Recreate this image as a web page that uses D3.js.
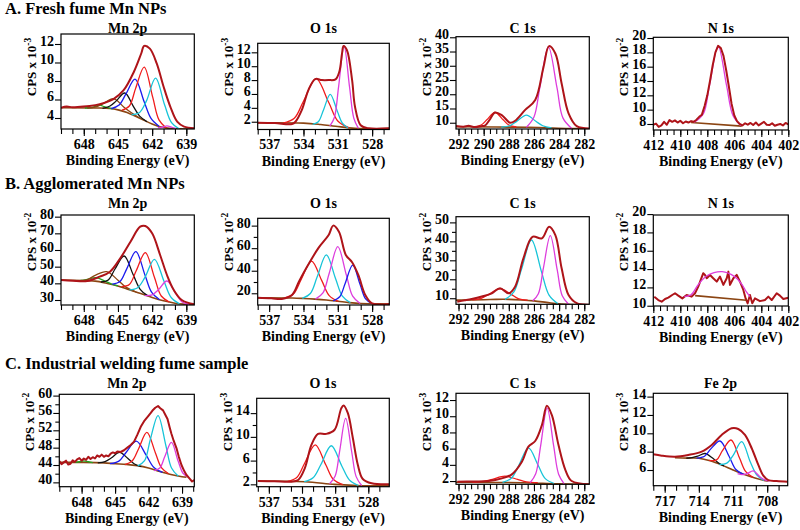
<!DOCTYPE html>
<html>
<head>
<meta charset="utf-8">
<script src="https://cdn.jsdelivr.net/npm/d3@7"></script>
<style>
  body { margin: 0; background: #fff; }
  svg text { font-family: "Liberation Serif", "Times New Roman", serif; font-weight: bold; fill: #000; }
</style>
</head>
<body>
<svg id="fig" width="800" height="530"></svg>
<script>
// ---- Text ----
const rowTitles = ["A. Fresh fume Mn NPs", "B. Agglomerated Mn NPs", "C. Industrial welding fume sample"];
const panelNames = [["Mn 2p", "O 1s", "C 1s", "N 1s"], ["Mn 2p", "O 1s", "C 1s", "N 1s"], ["Mn 2p", "O 1s", "C 1s", "Fe 2p"]];
const panelExponents = [["-3", "-3", "-2", "-2"], ["-2", "-2", "-2", "-2"], ["-2", "-3", "-3", "-3"]];
const xAxisTitle = "Binding Energy (eV)";

// ---- Tick labels ----
const mnXTicks = [648, 645, 642, 639];
const oXTicks = [537, 534, 531, 528];
const cXTicks = [292, 290, 288, 286, 284, 282];
const nXTicks = [412, 410, 408, 406, 404, 402];
const feXTicks = [717, 714, 711, 708];
const a1YTicks = [4, 6, 8, 10, 12];
const a2YTicks = [2, 4, 6, 8, 10, 12];
const a3YTicks = [10, 15, 20, 25, 30, 35, 40];
const a4YTicks = [8, 10, 12, 14, 16, 18, 20];
const b1YTicks = [30, 40, 50, 60, 70, 80];
const b2YTicks = [20, 40, 60, 80];
const b3YTicks = [10, 20, 30, 40, 50];
const b4YTicks = [10, 12, 14, 16, 18, 20];
const c1YTicks = [40, 44, 48, 52, 56, 60];
const c2YTicks = [2, 6, 10, 14];
const c3YTicks = [2, 4, 6, 8, 10, 12];
const c4YTicks = [6, 8, 10, 12, 14];

// ---- A. Fresh fume: [binding energy, CPS] ----
const a1Envelope = [[650,5.1],[649.5,5.25],[649,5.15],[648.3,5.22],[647.5,5.3],[646.6,5.5],[645.4,6.05],[644.5,7.0],[643.6,9.0],[642.95,11.0],[642.7,11.8],[642.2,11.5],[641.6,9.9],[641.0,7.4],[640.4,5.2],[639.8,3.6],[639.2,3.06],[638.3,2.9]];
const a1Background = [[650,5.1],[647,5.08],[645.7,5.03],[644.9,4.85],[644.2,4.6],[643.5,4.2],[642.8,3.8],[642,3.35],[641.3,3.05],[640.5,2.88],[639.8,2.82],[638.3,2.8]];
const a1Green = [[647.9,5.08],[647.4,5.12],[647.0,5.25],[646.6,5.4],[646.2,5.22],[645.8,5.1],[645.4,5.0]];
const a1Brown = [[647.7,5.08],[646.95,5.2],[646.3,5.55],[645.4,6.1],[644.5,5.2],[643.85,4.6],[643.1,4.0]];
const a1Black = [[646.35,5.05],[645.7,5.3],[645.15,5.85],[644.4,6.7],[643.65,5.25],[643.1,4.2],[642.45,3.6]];
const a1Blue = [[645.6,5.0],[644.9,5.4],[644.3,6.6],[643.5,8.2],[642.7,5.75],[642.1,3.95],[641.4,3.1]];
const a1Red = [[644.65,4.85],[644.0,5.3],[643.45,7.2],[642.7,9.5],[641.95,6.25],[641.4,3.8],[640.75,2.9]];
const a1Cyan = [[643.8,4.35],[643.1,4.6],[642.5,5.85],[641.7,8.3],[640.9,5.4],[640.3,3.5],[639.6,2.8]];
const a1Magenta = [[641.5,2.95],[641.1,3.0],[640.7,3.15],[640.3,3.0],[639.9,2.85]];

const a2Envelope = [[538,1.86],[536.5,1.8],[535.0,1.67],[534.7,2.0],[534.14,3.7],[533.56,6.6],[532.97,8.15],[532.4,8.0],[531.8,8.0],[531.2,8.1],[530.87,9.2],[530.63,11.85],[530.5,12.9],[530.2,12.3],[529.75,8.0],[529.5,4.2],[529.0,1.5],[528.3,1.05],[526.5,1.05]];
const a2Background = [[538,1.85],[534,1.8],[532.5,1.6],[531.2,1.35],[529.5,1.05],[526.5,1.0]];
const a2Red = [[535.8,1.8],[534.8,2.5],[534.0,4.95],[532.9,8.2],[531.8,4.8],[531.0,2.1],[530.0,1.1]];
const a2Cyan = [[533.2,1.62],[532.7,2.0],[532.25,3.7],[531.66,5.95],[531.05,3.55],[530.6,1.8],[530.1,1.1]];
const a2Magenta = [[531.7,1.35],[531.3,2.6],[530.93,7.05],[530.45,12.9],[529.97,6.95],[529.6,2.5],[529.2,1.05]];

const a3Envelope = [[292.2,8.84],[291.6,8.6],[291.2,8.9],[290.7,8.5],[290.2,8.8],[289.9,9.0],[289.5,11.2],[289.1,13.6],[288.56,12.7],[287.9,10.0],[287.5,10.7],[286.7,14.5],[285.9,18.0],[285.24,29.6],[284.8,36.9],[284.3,34.3],[283.8,23.8],[283.25,13.3],[282.6,8.8],[281.6,8.0]];
const a3Background = [[292.2,8.6],[286.5,8.4],[283.2,8.0],[281.6,7.9]];
const a3Red = [[290.8,8.55],[290.2,9.2],[289.75,11.05],[289.1,13.6],[288.45,11.05],[288.0,9.2],[287.4,8.5]];
const a3Cyan = [[288.6,8.45],[287.9,9.0],[287.35,10.55],[286.6,12.7],[285.85,10.5],[285.3,8.95],[284.6,8.2]];
const a3Magenta = [[286.6,8.4],[286.0,12.0],[285.53,22.4],[284.85,36.6],[284.17,22.3],[283.7,11.7],[283.0,8.0]];

const a4Envelope = [[412,7.9],[411.8,8.05],[411.6,7.6],[411.4,7.8],[411.2,8.3],[411.0,7.9],[410.8,8.55],[410.6,8.3],[410.4,8.5],[410.2,8.2],[410.0,8.45],[409.8,8.1],[409.6,8.35],[409.4,8.2],[409.2,8.4],[409.0,8.3],[408.8,8.6],[408.6,9.0],[408.4,9.3],[408.2,10.5],[408.0,12.0],[407.8,14.0],[407.6,16.2],[407.4,18.0],[407.2,18.9],[407.0,18.6],[406.8,17.5],[406.6,15.5],[406.4,13.2],[406.2,10.8],[406.0,9.2],[405.8,8.4],[405.6,8.0],[405.4,7.8],[405.2,8.1],[405.0,7.9],[404.8,8.15],[404.6,7.85],[404.4,8.2],[404.2,7.8],[404.0,8.05],[403.8,8.3],[403.6,7.9],[403.4,7.85],[403.2,8.1],[403.0,7.75],[402.8,7.9],[402.6,8.0],[402.4,7.8],[402.2,8.15],[402.0,7.95]];
const a4Background = [[409.2,8.2],[405.45,7.7]];
const a4Magenta = [[409.0,8.2],[408.3,9.4],[407.83,13.45],[407.2,18.9],[406.57,13.35],[406.1,9.2],[405.5,7.75]];

// ---- B. Agglomerated ----
const b1Envelope = [[650,42],[649,41.6],[647.7,41.4],[646.6,44],[645.7,47],[644.8,55],[643.9,65],[643.05,74],[642.6,74.4],[642.0,70],[641.3,57],[640.7,45],[640.1,36],[639.4,30],[638.3,27.4]];
const b1Background = [[650,42],[647,41.3],[646,40],[645,38.4],[644,36.1],[643,33.9],[642,31.5],[641,29.5],[640,28.1],[639,27.4],[638.3,27]];
const b1Green = [[648.8,41.6],[648.2,41.7],[647.7,42.4],[646.9,43.4],[646.1,41.2],[645.6,39.7],[645.0,38.5]];
const b1Brown = [[648.6,41.6],[647.7,42.2],[647.0,44.8],[646.0,47],[645.0,41.9],[644.3,37.7],[643.4,34.8]];
const b1Black = [[646.5,40.8],[645.85,42.0],[645.26,48.6],[644.46,56.4],[643.66,45.1],[643.05,36.4],[642.4,32.6]];
const b1Blue = [[645.5,39.5],[644.8,41.3],[644.23,48.7],[643.43,59],[642.63,45],[642.05,34.7],[641.35,30.2]];
const b1Red = [[644.7,38],[644.0,39.3],[643.4,47.5],[642.6,58.4],[641.8,43.6],[641.2,32.4],[640.5,28.8]];
const b1Cyan = [[644.0,36.1],[643.27,37.4],[642.65,43.4],[641.8,54.4],[640.95,41.1],[640.33,31.5],[639.6,27.7]];
const b1Magenta = [[642.65,32.6],[642.0,33.1],[641.45,36.2],[640.7,41.4],[639.95,34.2],[639.4,29.0],[638.75,27.3]];

const b2Envelope = [[538,16.1],[536.8,15.6],[535.9,15],[535.0,18.5],[534.4,30.3],[533.6,45],[532.7,60],[531.8,71.7],[531.4,80],[530.9,74.6],[530.3,54],[529.75,47.5],[529.2,36],[528.6,18.5],[528.0,11.1],[526.5,10.5]];
const b2Background = [[538,16],[535,15.8],[534,15.4],[533,14.8],[532,14.0],[531,12.9],[530,11.7],[529,10.9],[528,10.7],[526.5,10.5]];
const b2Red = [[535.65,15.9],[534.85,19.8],[534.2,32.2],[533.3,48.6],[532.4,31.2],[531.75,17.9],[530.95,12.8]];
const b2Cyan = [[534.1,15.5],[533.4,19.8],[532.8,34.6],[532.0,54],[531.2,33.1],[530.6,17.4],[529.9,11.6]];
const b2Magenta = [[532.95,14.8],[532.3,20.3],[531.75,37.8],[531.0,61.3],[530.25,36.1],[529.7,17.4],[529.05,10.9]];
const b2Blue = [[531.4,13.3],[530.83,16.9],[530.35,28.9],[529.7,45],[529.05,27.7],[528.57,15],[528.0,10.7]];

const b3Envelope = [[292.1,8.2],[291.5,8.9],[290.95,9.6],[290.15,10.9],[289.35,12.6],[288.7,15.3],[288.03,12.6],[287.5,16.1],[286.84,31],[286.12,42.4],[285.37,41.6],[284.8,47.7],[284.3,43.3],[283.8,25.8],[283.25,11.7],[282.6,7.4],[281.6,6.6]];
const b3Background = [[292.2,9],[290,9.2],[289,9.4],[288,9.4],[287,9.1],[286,8.6],[285,7.8],[284,7.0],[283,6.7],[281.6,6.6]];
const b3Red = [[290.9,9.1],[290.2,9.9],[289.55,12.2],[288.7,15],[287.85,12.2],[287.25,9.8],[286.5,9.0]];
const b3Cyan = [[288.3,9.4],[287.6,13.3],[287.0,25.1],[286.2,40.7],[285.4,23.9],[284.8,11.6],[284.1,7.1]];
const b3Magenta = [[286.1,8.7],[285.65,12.4],[285.25,25.9],[284.7,43],[284.15,24.9],[283.75,11.3],[283.25,6.8]];

const b4Envelope = [[411.93,10.99],[411.63,10.62],[411.38,10.44],[411.13,10.73],[410.89,10.88],[410.6,11.17],[410.39,11.36],[410.15,11.1],[409.85,10.8],[409.53,11.17],[409.16,10.99],[408.91,11.36],[408.67,12.08],[408.3,13.55],[408.17,13.36],[408.04,13.0],[407.8,13.36],[407.56,13.0],[407.3,12.63],[407.06,13.18],[406.81,12.27],[406.56,13.0],[406.44,13.72],[406.32,12.27],[406.07,13.0],[405.82,13.36],[405.58,12.63],[405.33,11.72],[405.16,10.8],[405.01,10.26],[404.84,11.17],[404.67,10.26],[404.47,10.8],[404.1,10.5],[403.73,10.62],[403.48,10.99],[403.23,10.62],[402.86,11.36],[402.62,11.1],[402.37,10.73],[402.0,10.88]];
const b4Background = [[408.9,11.1],[405.1,10.6]];
const b4Magenta = [[409.7,11.0],[409.2,11.2],[408.67,12.3],[408.0,13.3],[406.9,13.72],[406.0,13.2],[405.45,12.35],[405.1,11.5],[404.84,11.0]];

// ---- C. Industrial welding fume ----
const c1Envelope = [[650,44.9],[649.8,44.2],[649.6,44.6],[649.4,45.0],[649.2,44.1],[649.0,44.3],[648.8,45.1],[648.6,44.7],[648.4,45.3],[648.2,45.6],[648.0,45.0],[647.8,45.5],[647.6,45.2],[647.4,45.9],[647.2,45.4],[647.0,45.8],[646.8,45.5],[646.6,46.2],[646.4,45.9],[646.2,46.4],[646.0,45.9],[645.8,46.2],[645.6,46.0],[645.4,46.6],[645.2,46.9],[645.0,46.7],[644.8,47.1],[644.5,47.0],[644.2,47.4],[643.9,48.0],[643.6,48.6],[643.3,49.4],[643.0,51.0],[642.7,52.8],[642.4,54.1],[642.05,55.2],[641.8,56.0],[641.6,56.7],[641.4,57.2],[641.15,57.6],[640.95,57.1],[640.7,56.6],[640.5,55.6],[640.3,54.6],[640.1,52.6],[639.95,51.2],[639.75,49.6],[639.5,47.9],[639.3,46.0],[639.05,44.0],[638.8,42.6],[638.6,41.7],[638.3,40.8],[638.1,40.2],[637.9,40.5]];
const c1Background = [[650,44.6],[648,44.6],[646,44.5],[645,44.3],[644,44.15],[643,43.85],[642,43.3],[641,42.5],[640,41.8],[639,41.3],[638.6,41.2]];
const c1Green = [[648.6,44.6],[648.2,44.75],[647.8,44.95],[647.4,44.75],[647.0,44.55]];
const c1Black = [[646.55,44.5],[645.9,44.8],[645.35,45.6],[644.6,46.9],[643.85,45.5],[643.3,44.3],[642.65,43.6]];
const c1Blue = [[645.45,44.3],[644.66,44.9],[644.0,46.95],[643.1,49.5],[642.2,46.2],[641.54,43.5],[640.75,42.3]];
const c1Red = [[644.1,44.1],[643.45,45.0],[642.9,47.7],[642.15,51.5],[641.4,46.9],[640.85,43.4],[640.2,42.0]];
const c1Cyan = [[642.97,43.8],[642.36,45.0],[641.85,49.8],[641.15,55.4],[640.45,48.5],[639.94,43.3],[639.33,41.4]];
const c1Magenta = [[641.5,42.7],[640.99,43.3],[640.55,45.9],[639.95,49.2],[639.35,44.9],[638.91,42.1],[638.4,41.2]];

const c2Envelope = [[538,2.56],[536.5,2.5],[534.95,2.44],[534.35,2.73],[533.75,4.7],[533.15,8.64],[532.55,10.5],[531.8,10.5],[531.05,11.2],[530.45,14.8],[530.24,15.3],[529.85,14.0],[529.4,9.8],[528.95,5.3],[528.5,2.9],[527.7,2.17],[526.1,2.0]];
const c2Background = [[538,2.56],[533.75,2.44],[531.05,2.0],[528.6,1.77],[526.1,1.75]];
const c2Red = [[535.3,2.5],[534.45,3.2],[533.75,5.6],[532.8,8.64],[531.85,5.3],[531.15,2.8],[530.3,1.95]];
const c2Cyan = [[533.8,2.45],[533.0,3.1],[532.3,5.3],[531.35,8.5],[530.4,5.1],[529.7,2.7],[528.9,1.8]];
const c2Magenta = [[531.5,2.1],[531.0,3.4],[530.6,7.5],[530.05,13.1],[529.5,7.45],[529.1,3.3],[528.6,1.8]];

const c3Envelope = [[292.1,1.91],[290.8,1.95],[289.6,2.0],[288.56,2.33],[287.76,2.83],[286.96,4.38],[286.44,6.24],[285.9,6.94],[285.37,8.9],[284.97,11.3],[284.57,10.1],[284.05,6.44],[283.5,3.36],[283.0,2.0],[281.6,1.6]];
const c3Background = [[292.2,1.85],[286.9,1.8],[284.1,1.65],[281.6,1.6]];
const c3Red = [[290.9,1.85],[290.0,1.95],[289.3,2.22],[288.3,2.6],[287.3,2.2],[286.6,1.9],[285.7,1.8]];
const c3Cyan = [[288.5,1.85],[287.8,2.35],[287.2,3.95],[286.44,6.1],[285.67,3.95],[285.1,2.3],[284.4,1.7]];
const c3Magenta = [[286.3,1.8],[285.86,2.9],[285.47,6.35],[284.95,11.0],[284.43,6.3],[284.04,2.85],[283.6,1.65]];

const c4Envelope = [[718,7.71],[717.26,7.56],[716.1,7.45],[714.93,7.64],[713.75,8.0],[712.87,8.73],[712.0,9.82],[711.12,10.55],[710.54,10.47],[709.95,9.82],[709.36,8.37],[708.78,6.55],[708.34,5.38],[707.9,4.9],[707.17,4.8],[706.2,4.72]];
const c4Background = [[716.1,7.34],[715,7.3],[714,7.28],[713,7.0],[712,6.55],[711,6.0],[710,5.5],[709,5.1],[708,4.8],[707.9,4.8]];
const c4Black = [[715.1,7.3],[714.6,7.35],[714.1,7.5],[713.46,7.8],[712.8,7.3],[712.3,6.8],[711.8,6.45]];
const c4Blue = [[714.2,7.3],[713.5,7.5],[712.95,8.3],[712.15,9.16],[711.35,7.5],[710.75,6.05],[710.05,5.5]];
const c4Red = [[713.1,7.05],[712.45,7.1],[711.93,8.1],[711.18,9.27],[710.43,7.3],[709.9,5.85],[709.25,5.2]];
const c4Cyan = [[712.2,6.6],[711.54,6.75],[710.99,7.6],[710.24,9.09],[709.49,6.9],[708.94,5.5],[708.3,4.85]];
const c4Magenta = [[710.6,5.6],[710.2,5.5],[709.77,5.6],[709.22,5.9],[708.67,5.3],[708.27,4.95],[707.8,4.8]];

// ---- Colours ----
const envColor = "#ae1419";
const bgColor = "#8b4513";
const peakColors = { green: "#22a322", brown: "#8b4513", black: "#111111", blue: "#1b1bee", red: "#f01c1c", cyan: "#17c4d8", magenta: "#dd3ddd" };

// ---- Layout (box = left, top, right, bottom in px) ----
const rowTop = [0, 175, 355];
const panels = [
  { row: 0, col: 0, box: [61, 34, 194.3, 129], xDom: [650, 638.3], yDom: [2.81, 13.08], xTicks: mnXTicks, xStep: 1, yTicks: a1YTicks, yMinor: [],
    env: a1Envelope, bg: a1Background, comps: [[a1Green, "green"], [a1Brown, "brown"], [a1Black, "black"], [a1Blue, "blue"], [a1Red, "red"], [a1Cyan, "cyan"], [a1Magenta, "magenta"]] },
  { row: 0, col: 1, box: [257.7, 43.3, 389.3, 129.5], xDom: [538, 526.5], yDom: [0.88, 13.3], xTicks: oXTicks, xStep: 1, yTicks: a2YTicks, yMinor: [],
    env: a2Envelope, bg: a2Background, comps: [[a2Red, "red"], [a2Cyan, "cyan"], [a2Magenta, "magenta"]] },
  { row: 0, col: 2, box: [456, 36.7, 589.3, 129], xDom: [292.2, 281.6], yDom: [7.8, 40.2], xTicks: cXTicks, xStep: 0.5, yTicks: a3YTicks, yMinor: [],
    env: a3Envelope, bg: a3Background, comps: [[a3Red, "red"], [a3Cyan, "cyan"], [a3Magenta, "magenta"]] },
  { row: 0, col: 3, box: [653.3, 37.3, 788.3, 130], xDom: [412, 402], yDom: [7.16, 20.1], xTicks: nXTicks, xStep: 0.5, yTicks: a4YTicks, yMinor: [], noisy: true,
    env: a4Envelope, bg: a4Background, comps: [[a4Magenta, "magenta"]] },
  { row: 1, col: 0, box: [61, 215, 194.3, 305], xDom: [650, 638.3], yDom: [27, 81], xTicks: mnXTicks, xStep: 1, yTicks: b1YTicks, yMinor: [],
    env: b1Envelope, bg: b1Background, comps: [[b1Green, "green"], [b1Brown, "brown"], [b1Black, "black"], [b1Blue, "blue"], [b1Red, "red"], [b1Cyan, "cyan"], [b1Magenta, "magenta"]] },
  { row: 1, col: 1, box: [257.7, 218.3, 389.3, 305], xDom: [538, 526.5], yDom: [9.6, 86.5], xTicks: oXTicks, xStep: 1, yTicks: b2YTicks, yMinor: [30, 50, 70],
    env: b2Envelope, bg: b2Background, comps: [[b2Red, "red"], [b2Cyan, "cyan"], [b2Magenta, "magenta"], [b2Blue, "blue"]] },
  { row: 1, col: 2, box: [456, 216.7, 589.3, 304.3], xDom: [292.2, 281.6], yDom: [6.8, 53], xTicks: cXTicks, xStep: 0.5, yTicks: b3YTicks, yMinor: [15, 25, 35, 45],
    env: b3Envelope, bg: b3Background, comps: [[b3Red, "red"], [b3Cyan, "cyan"], [b3Magenta, "magenta"]] },
  { row: 1, col: 3, box: [653.3, 215, 788.3, 306], xDom: [412, 402], yDom: [9.97, 19.9], xTicks: nXTicks, xStep: 0.5, yTicks: b4YTicks, yMinor: [], noisy: true,
    env: b4Envelope, bg: b4Background, comps: [[b4Magenta, "magenta"]], envBelow: true },
  { row: 2, col: 0, box: [59.3, 394.3, 194.3, 486.7], xDom: [650, 637.9], yDom: [39, 60.3], xTicks: mnXTicks, xStep: 1, yTicks: c1YTicks, yMinor: [42, 46, 50, 54, 58], noisy: true,
    env: c1Envelope, bg: c1Background, comps: [[c1Green, "green"], [c1Black, "black"], [c1Blue, "blue"], [c1Red, "red"], [c1Cyan, "cyan"], [c1Magenta, "magenta"]] },
  { row: 2, col: 1, box: [256.7, 398.3, 389.3, 486.7], xDom: [538.1, 526.1], yDom: [1.6, 16.5], xTicks: oXTicks, xStep: 1, yTicks: c2YTicks, yMinor: [4, 8, 12],
    env: c2Envelope, bg: c2Background, comps: [[c2Red, "red"], [c2Cyan, "cyan"], [c2Magenta, "magenta"]] },
  { row: 2, col: 2, box: [456, 393.3, 589.3, 484.3], xDom: [292.2, 281.6], yDom: [1.6, 12.83], xTicks: cXTicks, xStep: 0.5, yTicks: c3YTicks, yMinor: [],
    env: c3Envelope, bg: c3Background, comps: [[c3Red, "red"], [c3Cyan, "cyan"], [c3Magenta, "magenta"]] },
  { row: 2, col: 3, box: [653.3, 393.3, 787.7, 485.7], xDom: [718, 706.2], yDom: [4.29, 14.36], xTicks: feXTicks, xStep: 1, yTicks: c4YTicks, yMinor: [],
    env: c4Envelope, bg: c4Background, comps: [[c4Black, "black"], [c4Blue, "blue"], [c4Red, "red"], [c4Cyan, "cyan"], [c4Magenta, "magenta"]] }
];

const svg = d3.select("#fig");

// Row titles
rowTitles.forEach((t, r) => {
  svg.append("text")
    .attr("x", 5)
    .attr("y", rowTop[r] + 14)
    .style("font-size", "16.5px")
    .text(t);
});

function styleAxis(g) {
  g.select(".domain").remove();
  g.selectAll("line").attr("stroke", "#000").attr("stroke-width", 1.1);
  g.selectAll("text")
    .attr("fill", "#000")
    .style("font-family", "'Liberation Serif', 'Times New Roman', serif")
    .style("font-weight", "bold")
    .style("font-size", "14px");
}

panels.forEach((p, i) => {
  const [x0, y0, x1, y1] = p.box;
  const x = d3.scaleLinear().domain(p.xDom).range([x0, x1]);
  const y = d3.scaleLinear().domain(p.yDom).range([y1, y0]);
  const g = svg.append("g");

  g.append("clipPath").attr("id", "clip" + i)
    .append("rect")
    .attr("x", x0).attr("y", y0)
    .attr("width", x1 - x0).attr("height", y1 - y0);

  const smooth = d3.line().x(d => x(d[0])).y(d => y(d[1])).curve(d3.curveCatmullRom.alpha(0.5));
  const straight = d3.line().x(d => x(d[0])).y(d => y(d[1]));

  const plot = g.append("g").attr("clip-path", `url(#clip${i})`);

  const drawEnv = () => plot.append("path")
    .datum(p.env)
    .attr("d", p.noisy ? straight : smooth)
    .attr("fill", "none")
    .attr("stroke", envColor)
    .attr("stroke-width", 2)
    .attr("stroke-linejoin", "round");

  if (p.envBelow) drawEnv();

  plot.append("path")
    .datum(p.bg)
    .attr("d", smooth)
    .attr("fill", "none")
    .attr("stroke", bgColor)
    .attr("stroke-width", 1.6);

  p.comps.forEach(([pts, c]) => {
    plot.append("path")
      .datum(pts)
      .attr("d", smooth)
      .attr("fill", "none")
      .attr("stroke", peakColors[c])
      .attr("stroke-width", 1.3);
  });

  if (!p.envBelow) drawEnv();

  // Frame
  g.append("rect")
    .attr("x", x0).attr("y", y0)
    .attr("width", x1 - x0).attr("height", y1 - y0)
    .attr("fill", "none")
    .attr("stroke", "#000")
    .attr("stroke-width", 1.2);

  // X axis: minor ticks then labelled ticks
  const lo = Math.min(...p.xDom), hi = Math.max(...p.xDom);
  const minor = d3.range(Math.ceil(lo / p.xStep) * p.xStep, hi + 1e-9, p.xStep);
  g.append("g")
    .attr("transform", `translate(0,${y1})`)
    .call(d3.axisBottom(x).tickValues(minor).tickSize(5).tickFormat(""))
    .call(styleAxis);
  g.append("g")
    .attr("transform", `translate(0,${y1})`)
    .call(d3.axisBottom(x).tickValues(p.xTicks).tickSize(7).tickPadding(3).tickFormat(d3.format("d")))
    .call(styleAxis);

  // Y axis
  if (p.yMinor.length) {
    g.append("g")
      .attr("transform", `translate(${x0},0)`)
      .call(d3.axisLeft(y).tickValues(p.yMinor).tickSize(4).tickFormat(""))
      .call(styleAxis);
  }
  g.append("g")
    .attr("transform", `translate(${x0},0)`)
    .call(d3.axisLeft(y).tickValues(p.yTicks).tickSize(6).tickPadding(1).tickFormat(d3.format("d")))
    .call(styleAxis)
    .call(a => a.selectAll("text").attr("dy", "0.1em"));

  // Panel title
  g.append("text")
    .attr("x", (x0 + x1) / 2)
    .attr("y", rowTop[p.row] + 33)
    .attr("text-anchor", "middle")
    .style("font-size", "14px")
    .text(panelNames[p.row][p.col]);

  // X axis title
  g.append("text")
    .attr("x", (x0 + x1) / 2)
    .attr("y", y1 + 36)
    .attr("text-anchor", "middle")
    .style("font-size", "14px")
    .text(xAxisTitle);

  // Y axis title
  const yt = g.append("text")
    .attr("transform", `translate(${x0 - 25},${rowTop[p.row] + 67}) rotate(-90)`)
    .attr("text-anchor", "middle")
    .style("font-size", "13px");
  yt.append("tspan").text("CPS x 10");
  yt.append("tspan").attr("dy", -5).style("font-size", "9.5px").text(panelExponents[p.row][p.col]);
});
</script>
</body>
</html>
